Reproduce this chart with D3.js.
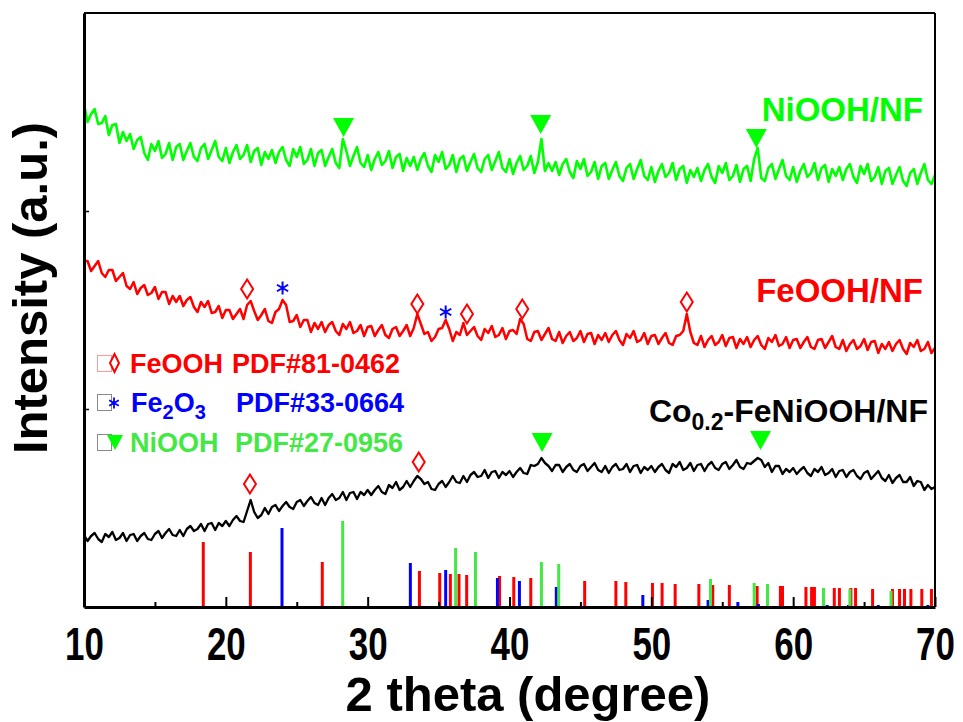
<!DOCTYPE html>
<html><head><meta charset="utf-8">
<script src="https://cdn.jsdelivr.net/npm/d3@7"></script>
<style>
html,body{margin:0;padding:0;background:#fff;}
svg{display:block;}
text{font-family:"Liberation Sans",Arial,Helvetica,sans-serif;font-weight:bold;}
</style>
</head><body>
<svg id="chart" width="963" height="722"></svg>
<script>
// ---- data ----
const thetaStart = 10, thetaStep = 0.25;   // 2θ grid of the scans (10° … 70°)
const coFeNiOOH = [72,66,71,74, 68,65,73,70, 75,67,69,74, 66,72,73,66, 71,74,68,67, 73,76,69,74, 78,72,71,77, 71,78,81,76, 78,83,76,83, 84,77,84,81,
 86,81,87,91, 86,85,96,107, 95,89,92,99, 93,100,102,96, 101,105,100,98, 105,107,101,106, 110,104,102,109, 102,109,113,107, 109,115,107,114, 115,108,115,112,
 117,112,117,121, 115,113,122,119, 125,117,120,126, 120,126,131,128, 123,125,118,117, 123,126,120,125, 131,125,124,131, 125,132,135,130, 131,137,129,135, 136,129,135,132,
 136,130,135,139, 134,133,142,141, 143,149,144,141, 136,142,142,135, 140,143,137,135, 141,143,136,140, 144,137,135,141, 134,140,143,137, 138,143,135,141, 142,134,140,137,
 141,135,140,143, 137,134,143,140, 145,137,139,144, 136,142,143,136, 142,145,139,137, 143,145,138,142, 147,140,138,144, 143,146,149,147, 140,144,135,141, 141,133,138,135,
 139,133,137,140, 134,131,138,135, 140,132,134,138, 130,136,137,130, 135,137,131,128, 134,136,128,132, 136,129,126,132, 124,129,132,125, 125,130,121,126, 125,117,122,118, 120];
const feOOH = [346,346,336,341, 346,334,330,337, 337,326,330,334, 321,318,325,313, 319,322,312,314, 320,308,315,315, 303,311,305,311, 301,307,310,300, 295,305,300,306, 294,295,301,289,
 297,297,288,293, 298,288,302,306, 296,287,292,298, 286,284,295,298, 307,302,285,286, 292,280,287,287, 275,284,278,285, 275,282,285,276, 272,283,278,285, 274,276,282,271,
 280,281,271,277, 282,272,269,278, 280,271,276,282, 271,279,293,283, 273,275,266,270, 278,279,287,278, 266,275,272,284, 272,276,280,271, 267,278,274,281, 270,272,279,268,
 276,277,273,288, 283,268,266,275, 276,267,273,279, 268,266,275,264, 271,275,266,269, 276,265,273,274, 263,272,267,274, 265,272,276,267, 262,273,269,276, 265,267,274,263,
 271,272,263,269, 274,264,262,271, 272,276,293,275, 264,262,271,260, 267,271,262,265, 272,261,269,270, 259,268,263,270, 260,267,271,262, 258,269,265,272, 261,263,270,259,
 267,268,259,265, 270,260,258,267, 268,259,265,271, 260,258,267,256, 263,267,258,261, 268,257,265,266, 254,263,258,265, 256,263,267,258, 253,264,260,267, 256,258,265,254, 259];
const niOOH = [503,485,493,498, 483,484,491,472, 482,483,464,475, 466,473,458,467, 470,454,447,463, 456,466,449,453, 464,447,460,463, 447,456,464,450, 446,459,463,448, 457,466,450,446,
 459,444,455,462, 448,452,462,445, 456,459,442,455, 448,457,444,455, 460,447,441,458, 450,460,443,447, 458,441,454,457, 441,450,458,444, 439,468,456,441, 451,460,444,440,
 452,437,448,455, 442,446,456,439, 450,453,436,449, 441,450,437,448, 454,441,435,452, 445,455,438,442, 452,435,448,451, 436,445,453,439, 435,448,452,437, 446,455,439,435,
 448,433,444,451, 437,441,451,434, 445,468,436,444, 436,445,432,443, 448,435,429,446, 438,448,431,435, 445,428,441,444, 428,437,445,431, 426,439,443,428, 438,447,431,427,
 440,425,436,443, 430,434,444,427, 438,441,424,437, 430,439,426,437, 443,430,424,441, 434,444,427,431, 442,425,438,441, 426,448,459,429, 426,439,443,428, 438,447,431,427,
 440,425,436,443, 430,434,444,427, 439,442,425,438, 431,440,427,438, 443,430,424,441, 433,443,426,430, 440,423,436,439, 423,432,440,426, 421,434,438,423, 434,443,427,423, 432];

// reference patterns (PDF cards)
const feoohRefTheta = [18.41,21.73,26.8,33.65,35.08,35.83,36.44,36.98,39.3,40.3,41.5,45.3,47.5,48.2,50.08,50.76,51.68,53.35,54.33,55.5,57.46,59.1,59.25,60.9,61.3,61.5,62.9,63.26,64.07,64.4,65.6,67.0,67.5,67.85,68.3,69.07,69.75];
const feoohRefInt   = [65,55,45,36,34,33,33,32,31,30,29,26,26,25,24,24,23,23,22,22,21,21,21,20,20,20,19,19,19,19,18,18,18,18,18,18,18];
const fe2o3RefTheta = [23.96,33.01,35.5,39.15,40.7,43.3,49.4,54.0,56.1,57.55,62.4,63.9,66.0,69.5];
const fe2o3RefInt   = [79,44,37,29,26,20,12,7,5,3,2,2,2,2];
const nioohRefTheta = [28.24,36.2,37.6,42.25,43.47,54.17,57.25,58.19,62.14,64.0,66.9];
const nioohRefInt   = [86,59,55,45,43,28,24,23,19,18,16];

// peak markers
const niTriTheta = [28.3,42.2,57.4],  niTriInt = [470,473,459];
const coTriTheta = [42.3,57.7],       coTriInt = [155,157];
const coDiaTheta = [21.7,33.6],       coDiaInt = [123,145];
const feDiaTheta = [21.5,33.5,37.0,40.9,52.5], feDiaInt = [318,303,293,298,305];
const feStarTheta = [24.0,35.5],      feStarInt = [319,295];

const xTicks = [10,20,30,40,50,60,70];
const xMinorTicks = [15,25,35,45,55,65];
const yTicks = [198,396];

const legendNames = ["FeOOH","Fe2O3","NiOOH"];
const legendPdf = ["PDF#81-0462","PDF#33-0664","PDF#27-0956"];

// ---- chart ----
const svg = d3.select("#chart");
const x = d3.scaleLinear().domain([10,70]).range([84,935]);
const y = d3.scaleLinear().domain([0,594]).range([607,13]);

const RED="#ff0000", BLUE="#0000ff", GREEN="#00ff00", GREEN2="#44e844";

function sticks(th, it, col){
  svg.append("g").selectAll("line").data(th).join("line")
    .attr("x1",d=>x(d)).attr("x2",d=>x(d))
    .attr("y1",y(0)).attr("y2",(d,i)=>y(it[i]))
    .attr("stroke",col).attr("stroke-width",3);
}
sticks(feoohRefTheta, feoohRefInt, RED);
sticks(fe2o3RefTheta, fe2o3RefInt, BLUE);
sticks(nioohRefTheta, nioohRefInt, GREEN2);

const line = d3.line().x((d,i)=>x(thetaStart+i*thetaStep)).y(d=>y(d));
[[coFeNiOOH,"#000",2.3],[feOOH,RED,2.5],[niOOH,GREEN,2.6]].forEach(([s,c,w])=>{
  svg.append("path").datum(s).attr("d",line).attr("fill","none").attr("stroke",c)
    .attr("stroke-width",w).attr("stroke-linejoin","round");
});

// markers
const tri = "M-10.5,-19L10.5,-19L0,0Z";
function triangles(th,it){
  svg.append("g").selectAll("path").data(th).join("path")
    .attr("d",tri).attr("fill",GREEN)
    .attr("transform",(d,i)=>`translate(${x(d)},${y(it[i])})`);
}
triangles(niTriTheta,niTriInt);
triangles(coTriTheta,coTriInt);
const dia = "M0,-9.5L6,0L0,9.5L-6,0Z";
function diamonds(th,it){
  svg.append("g").selectAll("path").data(th).join("path")
    .attr("d",dia).attr("fill","#fff").attr("stroke",RED).attr("stroke-width",2)
    .attr("transform",(d,i)=>`translate(${x(d)},${y(it[i])})`);
}
diamonds(coDiaTheta,coDiaInt);
diamonds(feDiaTheta,feDiaInt);
const star = "M0,-6.5L0,6.5M-5.6,-3.25L5.6,3.25M-5.6,3.25L5.6,-3.25";
svg.append("g").selectAll("path").data(feStarTheta).join("path")
  .attr("d",star).attr("fill","none").attr("stroke",BLUE).attr("stroke-width",2)
  .attr("transform",(d,i)=>`translate(${x(d)},${y(feStarInt[i])})`);

// series labels
svg.append("text").attr("x",923).attr("y",121).attr("text-anchor","end")
  .attr("font-size",33).attr("fill",GREEN).text("NiOOH/NF");
svg.append("text").attr("x",923).attr("y",302).attr("text-anchor","end")
  .attr("font-size",33).attr("fill",RED).text("FeOOH/NF");
const co = svg.append("text").attr("x",928).attr("y",422).attr("text-anchor","end")
  .attr("font-size",32).attr("fill","#000");
co.append("tspan").text("Co");
co.append("tspan").attr("dy",8).attr("font-size",23).text("0.2");
co.append("tspan").attr("dy",-8).text("-FeNiOOH/NF");

// legend
const lg = svg.append("g");
const rowY = [373,412,452];
const rowCol = [RED,BLUE,GREEN2];
const boxCol = ["#ff9a9a","#8a8a8a","#8a8a8a"];
rowY.forEach((ry,i)=>{
  lg.append("rect").attr("x",97.5).attr("y",ry-17.5).attr("width",14).attr("height",16)
    .attr("fill","#fff").attr("stroke",boxCol[i]).attr("stroke-width",1);
});
lg.append("path").attr("d","M0,-9L4.5,0L0,9L-4.5,0Z").attr("fill","#fff").attr("stroke",RED).attr("stroke-width",2)
  .attr("transform",`translate(114.5,${rowY[0]-10})`);
lg.append("path").attr("d","M0,-5.5L0,5.5M-4.8,-2.75L4.8,2.75M-4.8,2.75L4.8,-2.75").attr("fill","none").attr("stroke",BLUE).attr("stroke-width",1.8)
  .attr("transform",`translate(114,${rowY[1]-9})`);
lg.append("path").attr("d","M-8,-15L8,-15L0,0Z").attr("fill",GREEN)
  .attr("transform",`translate(115,${rowY[2]-2})`);
lg.append("text").attr("x",130).attr("y",rowY[0]).attr("font-size",27).attr("fill",RED).text(legendNames[0]);
const fe2 = lg.append("text").attr("x",131).attr("y",rowY[1]).attr("font-size",27).attr("fill",BLUE);
fe2.append("tspan").text("Fe");
fe2.append("tspan").attr("dy",7).attr("font-size",20).text("2");
fe2.append("tspan").attr("dy",-7).text("O");
fe2.append("tspan").attr("dy",7).attr("font-size",20).text("3");
lg.append("text").attr("x",130).attr("y",rowY[2]).attr("font-size",27).attr("fill",GREEN2).text(legendNames[2]);
legendPdf.forEach((t,i)=>{
  lg.append("text").attr("x",[232,236,235][i]).attr("y",rowY[i]).attr("font-size",27).attr("fill",rowCol[i]).text(t);
});

// axes
const gx = svg.append("g").attr("transform","translate(0,607)")
  .call(d3.axisBottom(x).tickValues(xTicks).tickSizeInner(-10).tickSizeOuter(0).tickPadding(0));
gx.attr("font-size",46).attr("font-family",null);
gx.select(".domain").attr("stroke-width",3);
gx.selectAll(".tick line").attr("stroke-width",2);
gx.selectAll(".tick text").attr("y",53).attr("dy",null).attr("fill","#000")
  .attr("transform","scale(0.76,1)");
const gxm = svg.append("g").attr("transform","translate(0,607)")
  .call(d3.axisBottom(x).tickValues(xMinorTicks).tickSizeInner(-5).tickSizeOuter(0).tickFormat(""));
gxm.select(".domain").remove();
gxm.selectAll(".tick line").attr("stroke-width",2);

const gy = svg.append("g").attr("transform","translate(84,0)")
  .call(d3.axisLeft(y).tickValues(yTicks).tickSizeInner(-5).tickSizeOuter(0).tickFormat(""));
gy.select(".domain").attr("stroke-width",3);
gy.selectAll(".tick line").attr("stroke-width",1.5);

svg.append("line").attr("x1",x(70)).attr("x2",x(70)).attr("y1",y(594)).attr("y2",y(0))
  .attr("stroke","#000").attr("stroke-width",2);
svg.append("line").attr("x1",x(10)).attr("x2",x(70)).attr("y1",y(594)).attr("y2",y(594))
  .attr("stroke","#000").attr("stroke-width",2);

// axis titles
svg.append("text").attr("x",528).attr("y",711).attr("text-anchor","middle")
  .attr("font-size",49).attr("fill","#000").text("2 theta (degree)");
svg.append("text").attr("transform","translate(47,288) rotate(-90)").attr("text-anchor","middle")
  .attr("font-size",49).attr("fill","#000").text("Intensity (a.u.)");
</script>
</body></html>
